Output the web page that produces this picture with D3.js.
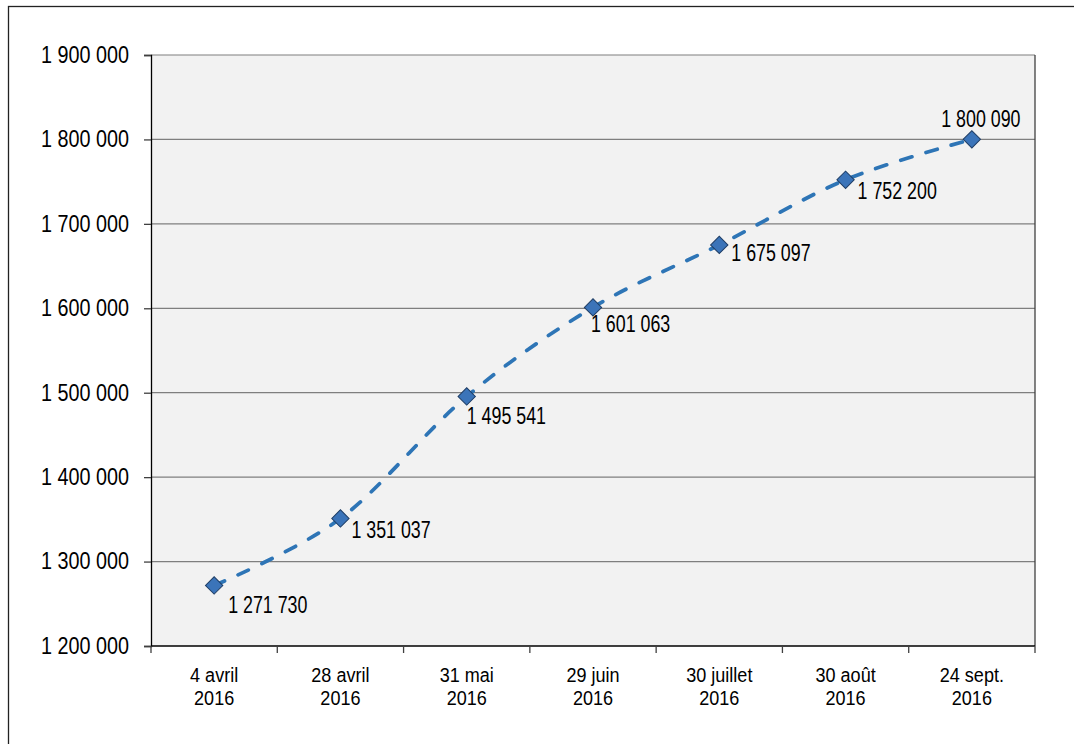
<!DOCTYPE html>
<html>
<head>
<meta charset="utf-8">
<script src="https://cdn.jsdelivr.net/npm/d3@7"></script>
<style>
  html, body { margin: 0; padding: 0; background: #ffffff; }
  svg { display: block; }
  text { font-family: "Liberation Sans", Arial, sans-serif; fill: #000; }
</style>
</head>
<body>
<svg id="chart" width="1074" height="744"></svg>
<script>
// Survey dates (two-line labels) and running totals
const dateLines = [
  ["4 avril", "2016"],
  ["28 avril", "2016"],
  ["31 mai", "2016"],
  ["29 juin", "2016"],
  ["30 juillet", "2016"],
  ["30 août", "2016"],
  ["24 sept.", "2016"]
];
const counts = [1271730, 1351037, 1495541, 1601063, 1675097, 1752200, 1800090];
const yTicks = [1200000, 1300000, 1400000, 1500000, 1600000, 1700000, 1800000, 1900000];

// Hand-placed value label offsets (px from the marker): [dx, dy, anchor]
const labelPlacement = [
  [14, 28, "start"],
  [11, 20, "start"],
  [0, 28, "start"],
  [-2, 25, "start"],
  [12, 16, "start"],
  [12, 19, "start"],
  [9, -12, "middle"]
];

const svg = d3.select("#chart");
const plot = { left: 151, right: 1035, top: 55, bottom: 646 };

// Condensed look: Liberation Sans squeezed horizontally
const NARROW_AXIS = 0.86, NARROW_LABEL = 0.775, NARROW_CAT = 0.86;

// Outer frame
svg.append("rect")
  .attr("x", 8.5).attr("y", 6.5)
  .attr("width", 1080).attr("height", 780)
  .attr("fill", "#fff").attr("stroke", "#222").attr("stroke-width", 1.3);

const idx = d3.range(counts.length);
const x = d3.scaleBand().domain(idx).range([plot.left, plot.right]).padding(0);
const cx = i => x(i) + x.bandwidth() / 2;
const y = d3.scaleLinear().domain([1200000, 1900000]).range([plot.bottom, plot.top]);

// French thousands separator
const fmt = v => d3.format(",")(v).replace(/,/g, "\u00a0");

// Plot background
svg.append("rect")
  .attr("x", plot.left).attr("y", plot.top)
  .attr("width", plot.right - plot.left).attr("height", plot.bottom - plot.top)
  .attr("fill", "#f2f2f2");

// Horizontal gridlines
svg.append("g").selectAll("line")
  .data(yTicks.filter(t => t > 1200000))
  .join("line")
  .attr("x1", plot.left).attr("x2", plot.right)
  .attr("y1", d => y(d)).attr("y2", d => y(d))
  .attr("stroke", "#7f7f7f").attr("stroke-width", 1.2);

// Right border of plot area
svg.append("line")
  .attr("x1", plot.right).attr("x2", plot.right)
  .attr("y1", plot.top).attr("y2", plot.bottom)
  .attr("stroke", "#404040").attr("stroke-width", 1.3);

// Y axis
const yAxis = d3.axisLeft(y).tickValues(yTicks).tickSize(7).tickPadding(0).tickFormat(fmt);
const gy = svg.append("g").attr("transform", `translate(${plot.left},0)`).call(yAxis);
gy.attr("font-family", null).attr("font-size", null);
gy.select(".domain").attr("stroke", "#000").attr("stroke-width", 1.3);
gy.selectAll(".tick line").attr("stroke", "#404040").attr("stroke-width", 1.3);
gy.selectAll(".tick text")
  .attr("x", 0)
  .attr("dy", "0.32em")
  .attr("font-size", 23)
  .attr("fill", "#000")
  .attr("transform", `translate(-22,0) scale(${NARROW_AXIS},1)`);

// X axis line with ticks at category boundaries
const gx = svg.append("g");
gx.append("line")
  .attr("x1", plot.left).attr("x2", plot.right)
  .attr("y1", plot.bottom).attr("y2", plot.bottom)
  .attr("stroke", "#000").attr("stroke-width", 1.6);
gx.selectAll("line.tk")
  .data(d3.range(counts.length + 1))
  .join("line").attr("class", "tk")
  .attr("x1", i => plot.left + i * x.bandwidth()).attr("x2", i => plot.left + i * x.bandwidth())
  .attr("y1", plot.bottom).attr("y2", plot.bottom + 7)
  .attr("stroke", "#404040").attr("stroke-width", 1.3);

// Category labels (two lines each)
const cat = gx.selectAll("text.cat")
  .data(idx).join("text").attr("class", "cat")
  .attr("text-anchor", "middle")
  .attr("font-size", 21)
  .attr("transform", i => `translate(${cx(i)},${plot.bottom}) scale(${NARROW_CAT},1)`);
cat.selectAll("tspan")
  .data(i => dateLines[i]).join("tspan")
  .attr("x", 0)
  .attr("y", (d, k) => 36 + k * 23)
  .text(d => d);

// Smoothed dashed line
const line = d3.line()
  .x((d, i) => cx(i))
  .y(d => y(d))
  .curve(d3.curveCardinal.tension(0));
svg.append("path")
  .datum(counts)
  .attr("d", line)
  .attr("fill", "none")
  .attr("stroke", "#2e75b6")
  .attr("stroke-width", 3.75)
  .attr("stroke-dasharray", "11.5,14.8")
  .attr("stroke-linecap", "round");

// Diamond markers
const diamond = d3.symbol().type(d3.symbolSquare).size(150);
svg.append("g").selectAll("path")
  .data(counts).join("path")
  .attr("d", diamond)
  .attr("transform", (d, i) => `translate(${cx(i)},${y(d)}) rotate(45)`)
  .attr("fill", "#3b74b9")
  .attr("stroke", "#1f3e66")
  .attr("stroke-width", 1);

// Value labels
svg.append("g").selectAll("text")
  .data(counts).join("text")
  .attr("font-size", 23)
  .attr("text-anchor", (d, i) => labelPlacement[i][2])
  .attr("transform", (d, i) =>
    `translate(${cx(i) + labelPlacement[i][0]},${y(d) + labelPlacement[i][1]}) scale(${NARROW_LABEL},1)`)
  .text(d => fmt(d));
</script>
</body>
</html>
